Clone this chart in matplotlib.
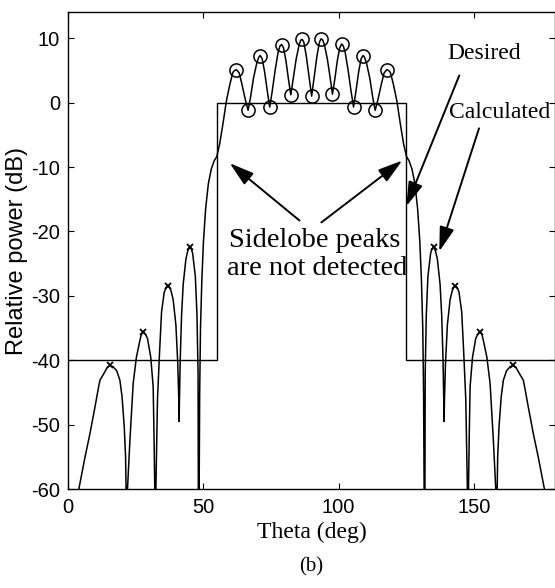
import matplotlib
matplotlib.use("Agg")
import matplotlib.pyplot as plt

plt.rcParams["axes.unicode_minus"] = False

# desired mask (dB)
theta_mask = [0, 55, 55, 125, 125, 180]
pow_mask = [-40, -40, 0, 0, -40, -40]

# calculated pattern (dB), nulls dip below the plotted range
theta_calc = [
    3.7, 3.9, 6.2, 8.0, 9.9, 11.1, 11.7, 13.5, 14.4, 15.4, 16.6, 17.9, 19.1, 19.9, 20.7, 21.2, 21.4,
    21.6,
    21.9, 22.8, 24.0, 25.2, 26.5, 27.0, 27.7, 28.5, 29.3, 30.5, 31.4, 31.7, 32.0,
    32.2,
    32.4, 33.0, 33.8, 34.5, 35.5, 36.2, 36.9, 37.5, 38.0, 38.8, 39.8, 40.5, 40.9,
    41.0,
    41.1, 41.4, 41.9, 42.5, 43.5, 44.2, 44.9, 45.5, 46.0, 47.0, 47.6, 48.0, 48.1,
    48.2,
    48.4, 48.6, 48.9, 49.4, 50.0, 50.8, 51.8, 52.9, 54.0, 54.9, 56.0, 57.2, 58.5,
    59.8, 60.9, 61.6, 62.2,
    63.2, 64.2, 65.4, 66.5,
    67.4, 68.5, 69.7, 70.4, 71.0,
    71.7, 72.6, 73.6, 74.5,
    75.4, 76.5, 77.6, 78.3, 78.9,
    79.6, 80.5, 81.4, 82.3,
    83.2, 84.3, 85.4, 86.0, 86.5,
    87.1, 88.0, 89.0, 90.0,
    91.0, 92.0, 92.9, 93.5,
    94.1, 94.7, 95.8, 96.9, 97.7,
    98.6, 99.5, 100.4, 101.1,
    101.7, 102.4, 103.5, 104.6, 105.5,
    106.4, 107.4, 108.3, 109.0,
    109.6, 110.3, 111.5, 112.6, 113.5,
    114.6, 115.8, 116.8, 117.8,
    118.4, 119.1, 120.2, 121.5, 122.8, 124.0, 125.1, 126.0, 127.1, 128.2, 129.2,
    130.0, 130.6, 131.1, 131.4, 131.6,
    131.8,
    131.9, 132.0, 132.4, 133.0, 134.0, 134.5, 135.1, 135.8, 136.5, 137.5, 138.1, 138.6, 138.9,
    139.0,
    139.1, 139.5, 140.2, 141.2, 142.0, 142.5, 143.1, 143.8, 144.5, 145.5, 146.2, 147.0, 147.6,
    147.8,
    148.0, 148.3, 148.6, 149.5, 150.7, 151.5, 152.3, 153.0, 153.5, 154.8, 156.0, 157.2, 158.1,
    158.4,
    158.6, 158.8, 159.3, 160.1, 160.9, 162.1, 163.4, 164.6, 165.6, 166.5, 168.3, 168.9, 170.1,
    172.0, 173.8, 176.1, 176.3,
]
pow_calc = [
    -64, -60, -55.0, -51.4, -47.2, -44.4, -43.1, -41.8, -41.1, -40.8, -41.0, -41.6, -43.1, -45.7, -50.3, -55.0, -60,
    -66,
    -60, -52.4, -43.6, -39.5, -36.9, -36.0, -35.6, -35.9, -36.6, -39.5, -44.1, -51.4, -60,
    -66,
    -60, -46, -38.4, -32.5, -29.4, -28.7, -28.4, -28.7, -29.2, -30.6, -34.5, -40.5, -46.5,
    -49.5,
    -46.5, -40, -33, -28.2, -24.3, -23.0, -22.4, -22.7, -23.4, -27, -33, -42, -60,
    -66,
    -60, -45, -35, -27.5, -21.5, -16.5, -12.6, -10.3, -9.0, -8.4, -6.4, -3.3, 0.3,
    2.9, 4.7, 5.0, 5.1,
    4.6, 2.9, 0.6, -1.2,
    0.8, 3.8, 6.1, 7.0, 7.3,
    6.8, 4.8, 1.8, -0.7,
    1.7, 5.0, 7.8, 8.8, 9.0,
    8.5, 6.5, 3.7, 1.2,
    3.7, 6.8, 9.0, 9.7, 9.8,
    9.4, 7.3, 4.2, 1.0,
    4.2, 7.3, 9.4, 9.9,
    9.7, 9.0, 6.8, 3.7, 1.3,
    3.7, 6.5, 8.5, 9.1,
    8.8, 7.8, 5.0, 1.7, -0.7,
    1.8, 4.8, 6.8, 7.3,
    7.0, 6.1, 3.8, 0.8, -1.2,
    0.6, 2.9, 4.6, 5.1,
    5.0, 4.7, 2.9, 0.3, -3.3, -6.4, -8.4, -9.0, -10.3, -12.6, -16.5,
    -21.5, -27.5, -35, -45, -60,
    -66,
    -60, -42, -33, -27, -23.4, -22.7, -22.4, -23.0, -24.3, -28.2, -33, -40, -46.5,
    -49.5,
    -46.5, -40.5, -34.5, -30.6, -29.2, -28.7, -28.4, -28.7, -29.4, -32.5, -38.4, -46, -60,
    -66,
    -60, -51.4, -44.1, -39.5, -36.6, -35.9, -35.6, -36.0, -36.9, -39.5, -43.6, -52.4, -60,
    -66,
    -60, -55.0, -50.3, -45.7, -43.1, -41.6, -41.0, -40.8, -41.1, -41.8, -43.1, -44.4, -47.2,
    -51.4, -55.0, -60, -64,
]

# detected extrema in the main beam
theta_peak = [62.2, 71.0, 78.9, 86.5, 93.5, 101.1, 109.0, 117.8]
pow_peak = [5.1, 7.3, 9.0, 9.8, 9.9, 9.1, 7.3, 5.1]
theta_dip = [66.5, 74.5, 82.3, 90.0, 97.7, 105.5, 113.5]
pow_dip = [-1.2, -0.7, 1.2, 1.0, 1.3, -0.7, -1.2]

# sidelobe peaks
theta_sll = [15.4, 27.7, 36.9, 44.9, 135.1, 143.1, 152.3, 164.6]
pow_sll = [-40.8, -35.6, -28.4, -22.4, -22.4, -28.4, -35.6, -40.8]

sans = "Liberation Sans"
serif = "Liberation Serif"

fig = plt.figure(figsize=(5.55, 5.88), dpi=100)
ax = fig.add_axes([0.123, 0.168, 0.877, 0.811])

ax.plot(theta_mask, pow_mask, color="black", lw=1.0)
ax.plot(theta_calc, pow_calc, color="black", lw=1.1)
ax.plot(theta_peak, pow_peak, "o", ms=9.5, mfc="none", mec="black", mew=1.1)
ax.plot(theta_dip, pow_dip, "o", ms=9.5, mfc="none", mec="black", mew=1.1)
ax.plot(theta_sll, pow_sll, "x", ms=5, mec="black", mew=1.3)

ax.set_xlim(0, 180)
ax.set_ylim(-60, 14)
ax.set_xticks([0, 50, 100, 150])
ax.set_yticks([10, 0, -10, -20, -30, -40, -50, -60])
ax.tick_params(direction="in", top=True, right=True, length=4, width=0.8,
               labelsize=14.5, pad=6)
for lab in ax.get_xticklabels() + ax.get_yticklabels():
    lab.set_family(sans)
for s in ax.spines.values():
    s.set_linewidth(1.0)

ax.set_ylabel("Relative power (dB)", family=sans, fontsize=17, labelpad=2)
ax.set_xlabel("Theta (deg)", family=serif, fontsize=17, labelpad=4)
fig.text(0.56, 0.036, "(b)", family=serif, fontsize=15, ha="center", va="center")

arrow = dict(arrowstyle="-|>,head_length=1.5,head_width=0.45", color="black",
             lw=1.4, mutation_scale=10, shrinkA=0, shrinkB=0)

ax.text(91.1, -21.4, "Sidelobe peaks", family=serif, fontsize=20.5,
        ha="center", va="center")
ax.text(92.2, -25.7, "are not detected", family=serif, fontsize=20.5,
        ha="center", va="center")
ax.annotate("", xy=(59.7, -9.4), xytext=(85.5, -18.3), arrowprops=arrow)
ax.annotate("", xy=(123.5, -9.0), xytext=(93.6, -18.6), arrowprops=arrow)

ax.text(153.8, 7.6, "Desired", family=serif, fontsize=17, ha="center", va="center")
ax.annotate("", xy=(125.0, -16.1), xytext=(144.6, 4.2), arrowprops=arrow)

ax.text(159.7, -1.5, "Calculated", family=serif, fontsize=17, ha="center", va="center")
ax.annotate("", xy=(137.2, -23.1), xytext=(151.9, -4.0), arrowprops=arrow)

fig.savefig("out.png", dpi=100)
